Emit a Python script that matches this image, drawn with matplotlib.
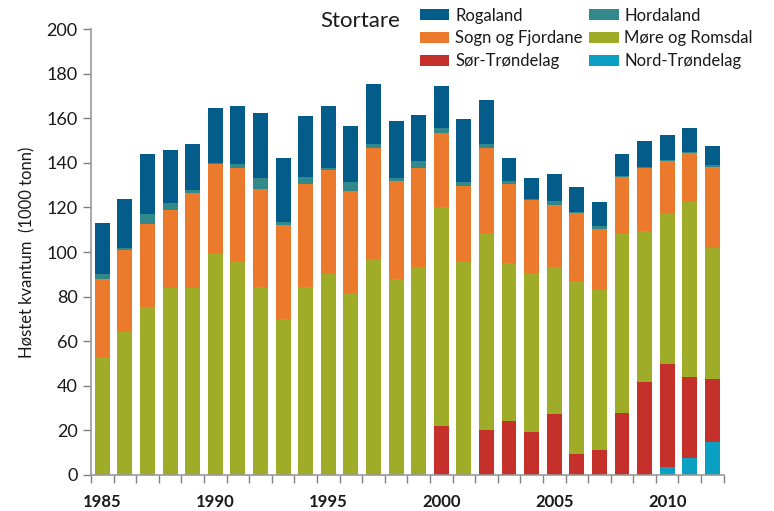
import matplotlib
matplotlib.use("Agg")
import matplotlib.pyplot as plt
import numpy as np

plt.rcParams['font.family'] = ['Lato', 'DejaVu Sans']

years = list(range(1985, 2013))
nord_trondelag = [0]*25 + [3.5, 7.5, 15]
sor_trondelag = [0]*15 + [22, 0, 20, 24, 19.5, 27.5, 9.5, 11, 28, 41.5, 46.5, 36.5, 28]
more_romsdal = [53, 64, 75.5, 84, 84, 99.5, 95.5, 84.5, 70, 84.5, 90, 81.5, 97, 88, 93.5,
                98, 95.5, 88.5, 71, 71, 66, 77.5, 72, 80.5, 68, 67, 79, 59]
sogn_fjordane = [35, 37, 37, 35, 42.5, 40, 42, 44, 42, 46, 47, 46, 49.5, 44, 44,
                 33.5, 34, 38, 35.5, 33, 27.5, 30.5, 27.5, 25, 28, 24, 21.5, 36]
hordaland = [2, 1, 4.5, 3, 1.5, 0.5, 2, 4.5, 1.5, 3, 0.5, 4, 2, 1, 3.5,
             2, 2, 2, 1.5, 0.5, 2, 0.5, 1, 0.5, 0.5, 0.5, 0.5, 1]
rogaland = [23, 22, 27, 24, 20.5, 24.5, 26, 29.5, 28.5, 27.5, 28, 25, 27, 26, 20.5,
            19, 28, 19.5, 10, 9, 12, 11, 11, 10, 12, 11, 10.5, 8.5]

series = [
    ("Nord-Trøndelag", nord_trondelag, "#0AA0C2"),
    ("Sør-Trøndelag", sor_trondelag, "#C5302B"),
    ("Møre og Romsdal", more_romsdal, "#9FAC27"),
    ("Sogn og Fjordane", sogn_fjordane, "#EC7A2C"),
    ("Hordaland", hordaland, "#31898C"),
    ("Rogaland", rogaland, "#045C8B"),
]

fig = plt.figure(figsize=(7.74, 5.11), dpi=100)
ax = fig.add_axes([0.1176, 0.0705, 0.8174, 0.8725])

x = np.array(years)
bottom = np.zeros(len(years))
handles = {}
for name, vals, col in series:
    v = np.array(vals, dtype=float)
    b = ax.bar(x, v, width=0.66, bottom=bottom, color=col, edgecolor='none', label=name)
    handles[name] = b
    bottom += v

ax.set_xlim(1984.5, 2012.5)
ax.set_ylim(0, 200)
ax.set_yticks(range(0, 201, 20))
ax.tick_params(axis='y', labelsize=13, colors='#808080', length=6, width=1, labelcolor='#1a1a1a')
ax.set_xticks([1985, 1990, 1995, 2000, 2005, 2010])
ax.set_xticklabels(['1985', '1990', '1995', '2000', '2005', '2010'], fontweight='bold', fontsize=12)
ax.tick_params(axis='x', length=0, pad=14, labelcolor='#1a1a1a')
ax.set_xticks(np.arange(1984.5, 2013, 1), minor=True)
ax.tick_params(axis='x', which='minor', length=6, width=1, colors='#808080')

for s in ['top', 'right']:
    ax.spines[s].set_visible(False)
for s in ['left', 'bottom']:
    ax.spines[s].set_color('#999999')
    ax.spines[s].set_linewidth(1.2)

ax.set_ylabel('Høstet kvantum  (1000 tonn)', fontsize=12, labelpad=8, color='#1a1a1a')

fig.text(0.466, 0.958, 'Stortare', fontsize=16, ha='center', va='center', color='#1a1a1a')

order = ["Rogaland", "Sogn og Fjordane", "Sør-Trøndelag", "Hordaland", "Møre og Romsdal", "Nord-Trøndelag"]
leg = fig.legend([handles[n] for n in order], order, ncol=2, loc='upper left',
                 bbox_to_anchor=(0.543, 0.985), frameon=False, fontsize=12,
                 handlelength=1.75, handleheight=0.62, handletextpad=0.35,
                 columnspacing=0.4, labelspacing=0.4, borderaxespad=0, borderpad=0)
for t in leg.get_texts():
    t.set_color('#1a1a1a')

fig.savefig('out.png', dpi=100)
